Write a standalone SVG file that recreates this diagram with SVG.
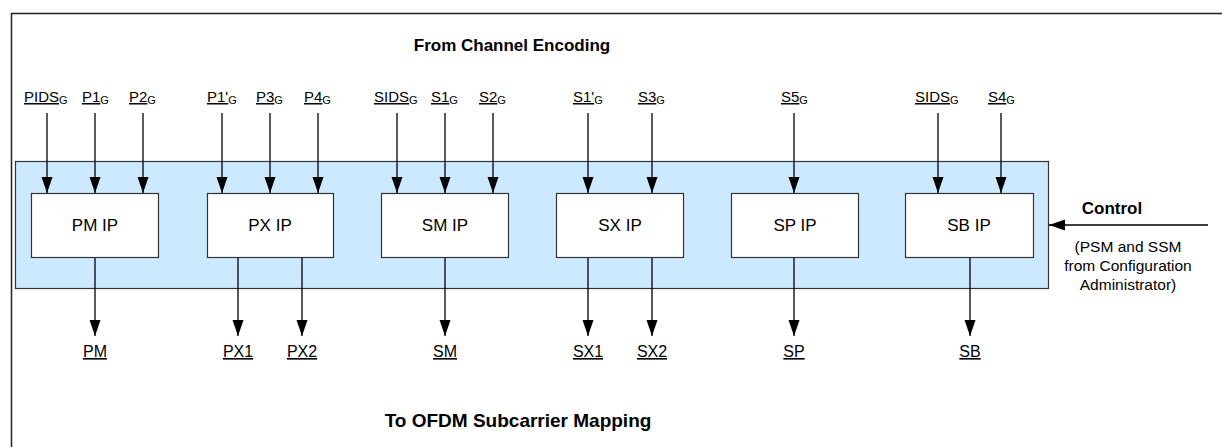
<svg xmlns="http://www.w3.org/2000/svg" width="1222" height="447" viewBox="0 0 1222 447">
<style>
  text { font-family: "Liberation Sans", Arial, sans-serif; fill: #000; }
  .title { font-size: 17px; font-weight: bold; text-anchor: middle; }
  .box { fill: #fff; stroke: #333; stroke-width: 1.2; }
  .boxtxt { font-size: 17px; text-anchor: middle; }
  .in { font-size: 15px; }
  .u { text-decoration: underline; }
  .sub { font-size: 11px; }
  .out { font-size: 16px; text-anchor: middle; text-decoration: underline; }
  .ctl { font-size: 15.5px; text-anchor: middle; }
  .conn line { stroke: #000; stroke-width: 1.3; marker-end: url(#ah); }
</style>
<defs>
  <marker id="ah" markerUnits="userSpaceOnUse" markerWidth="17" markerHeight="12" refX="16" refY="6" orient="auto">
    <path d="M0,0.5 L16,6 L0,11.5 z" fill="#000"/>
  </marker>
</defs>
<rect x="0" y="0" width="1222" height="447" fill="#fff"/>
<rect id="frame" x="11.5" y="13.5" width="1220" height="440" fill="none" stroke="#222" stroke-width="1.5"/>
<g id="panel">
  <rect x="15.5" y="161.5" width="1033" height="127" fill="#cce9ff" stroke="#333" stroke-width="1.2"/>
</g>
<text class="title" x="512" y="51">From Channel Encoding</text>
<text class="title" x="518" y="427" style="font-size:19px">To OFDM Subcarrier Mapping</text>

<g id="pm-ip"><rect class="box" x="31.5" y="193.5" width="127" height="64"/><text class="boxtxt" x="95" y="231">PM IP</text></g>
<g id="px-ip"><rect class="box" x="207.5" y="193.5" width="126" height="64"/><text class="boxtxt" x="270" y="231">PX IP</text></g>
<g id="sm-ip"><rect class="box" x="381.5" y="193.5" width="127" height="64"/><text class="boxtxt" x="445" y="231">SM IP</text></g>
<g id="sx-ip"><rect class="box" x="556.5" y="193.5" width="127" height="64"/><text class="boxtxt" x="620" y="231">SX IP</text></g>
<g id="sp-ip"><rect class="box" x="731.5" y="193.5" width="127" height="64"/><text class="boxtxt" x="795" y="231">SP IP</text></g>
<g id="sb-ip"><rect class="box" x="905.5" y="193.5" width="128" height="64"/><text class="boxtxt" x="969" y="231">SB IP</text></g>

<g id="inputs">
  <text class="in" x="24" y="102"><tspan class="u">PIDS</tspan><tspan class="sub" dy="2">G</tspan></text>
  <text class="in" x="82" y="102"><tspan class="u">P1</tspan><tspan class="sub" dy="2">G</tspan></text>
  <text class="in" x="129" y="102"><tspan class="u">P2</tspan><tspan class="sub" dy="2">G</tspan></text>
  <text class="in" x="207" y="102"><tspan class="u">P1'</tspan><tspan class="sub" dy="2">G</tspan></text>
  <text class="in" x="256" y="102"><tspan class="u">P3</tspan><tspan class="sub" dy="2">G</tspan></text>
  <text class="in" x="304" y="102"><tspan class="u">P4</tspan><tspan class="sub" dy="2">G</tspan></text>
  <text class="in" x="374" y="102"><tspan class="u">SIDS</tspan><tspan class="sub" dy="2">G</tspan></text>
  <text class="in" x="431" y="102"><tspan class="u">S1</tspan><tspan class="sub" dy="2">G</tspan></text>
  <text class="in" x="479" y="102"><tspan class="u">S2</tspan><tspan class="sub" dy="2">G</tspan></text>
  <text class="in" x="573" y="102"><tspan class="u">S1'</tspan><tspan class="sub" dy="2">G</tspan></text>
  <text class="in" x="638" y="102"><tspan class="u">S3</tspan><tspan class="sub" dy="2">G</tspan></text>
  <text class="in" x="781" y="102"><tspan class="u">S5</tspan><tspan class="sub" dy="2">G</tspan></text>
  <text class="in" x="915" y="102"><tspan class="u">SIDS</tspan><tspan class="sub" dy="2">G</tspan></text>
  <text class="in" x="988" y="102"><tspan class="u">S4</tspan><tspan class="sub" dy="2">G</tspan></text>
</g>

<g id="outputs">
  <text class="out" x="95" y="357">PM</text>
  <text class="out" x="238" y="357">PX1</text>
  <text class="out" x="302" y="357">PX2</text>
  <text class="out" x="445" y="357">SM</text>
  <text class="out" x="588" y="357">SX1</text>
  <text class="out" x="652" y="357">SX2</text>
  <text class="out" x="794" y="357">SP</text>
  <text class="out" x="970" y="357">SB</text>
</g>

<g id="control">
  <text class="title" x="1112" y="214">Control</text>
  <text class="ctl" x="1128" y="252">(PSM and SSM</text>
  <text class="ctl" x="1128" y="271">from Configuration</text>
  <text class="ctl" x="1128" y="290">Administrator)</text>
</g>

<g id="connectors" class="conn">
  <line x1="47" y1="113" x2="47" y2="193"/>
  <line x1="95" y1="113" x2="95" y2="193"/>
  <line x1="143" y1="113" x2="143" y2="193"/>
  <line x1="222" y1="113" x2="222" y2="193"/>
  <line x1="270" y1="113" x2="270" y2="193"/>
  <line x1="318" y1="113" x2="318" y2="193"/>
  <line x1="397" y1="113" x2="397" y2="193"/>
  <line x1="445" y1="113" x2="445" y2="193"/>
  <line x1="493" y1="113" x2="493" y2="193"/>
  <line x1="588" y1="113" x2="588" y2="193"/>
  <line x1="652" y1="113" x2="652" y2="193"/>
  <line x1="794" y1="113" x2="794" y2="193"/>
  <line x1="938" y1="113" x2="938" y2="193"/>
  <line x1="1001" y1="113" x2="1001" y2="193"/>
  <line x1="95" y1="258" x2="95" y2="336"/>
  <line x1="238" y1="258" x2="238" y2="336"/>
  <line x1="302" y1="258" x2="302" y2="336"/>
  <line x1="445" y1="258" x2="445" y2="336"/>
  <line x1="588" y1="258" x2="588" y2="336"/>
  <line x1="652" y1="258" x2="652" y2="336"/>
  <line x1="794" y1="258" x2="794" y2="336"/>
  <line x1="970" y1="258" x2="970" y2="336"/>
  <line x1="1208" y1="225" x2="1049" y2="225"/>
</g>
</svg>
